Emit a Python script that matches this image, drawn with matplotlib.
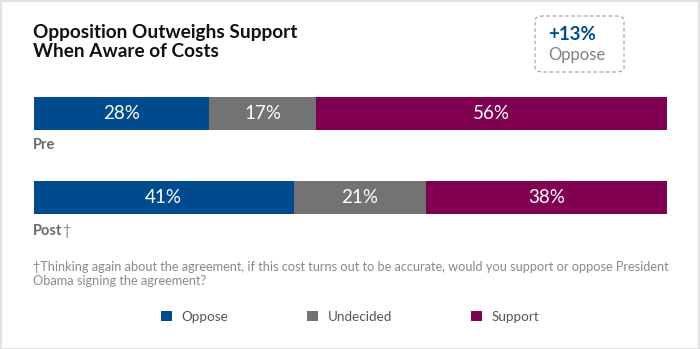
import matplotlib.pyplot as plt
import numpy as np
from matplotlib.patches import FancyBboxPatch, Rectangle

# datos
rows = ["Pre", "Post"]
categories = ["Oppose", "Undecided", "Support"]
oppose = [28, 41]
undecided = [17, 21]
support = [56, 38]
colors = ["#004b8d", "#737373", "#7f0050"]

W, H = 700, 349
plt.rcParams['font.family'] = ['Lato', 'DejaVu Sans']

fig = plt.figure(figsize=(W / 100, H / 100), dpi=100)
fig.patch.set_facecolor("white")

def px(x, y):
    return x / W, 1 - y / H

# borde de la figura
fig.patches.append(Rectangle((0.5 / W, 0.5 / H), 1 - 1.5 / W, 1 - 1.5 / H,
                             transform=fig.transFigure, fill=False,
                             edgecolor="#dcdcdc", linewidth=1.2))

# ejes de las barras
gap, bar_px = 84, 33
h = bar_px / gap
left, right, top, bottom = 34, 667, 97, 214
ax = fig.add_axes([left / W, 1 - bottom / H, (right - left) / W, (bottom - top) / H])
ax.set_xlim(0, 1)
ax.set_ylim(1 + h / 2, -h / 2)
ax.axis("off")

data = np.array([oppose, undecided, support], dtype=float)
totals = data.sum(axis=0)
starts = np.zeros(len(rows))
handles = []
for i, cat in enumerate(categories):
    widths = data[i] / totals
    b = ax.barh(np.arange(len(rows)), widths, left=starts, height=h,
                color=colors[i], label=cat)
    handles.append(b)
    for j in range(len(rows)):
        ax.text(starts[j] + widths[j] / 2, j, f"{int(data[i][j])}%",
                ha="center", va="center", color="white", fontsize=13.5)
    starts += widths

# etiquetas de fila
fig.text(*px(33, 145), "Pre", fontsize=10.5, fontweight="bold", color="#6b6b6b",
         va="center")
fig.text(*px(33, 231), "Post", fontsize=10.5, fontweight="bold", color="#6b6b6b",
         va="center")
fig.text(*px(62, 231), "†", fontsize=10.5, color="#8a8a8a", va="center")

# título
fig.text(*px(33, 42), "Opposition Outweighs Support\nWhen Aware of Costs",
         fontsize=13.7, fontweight="bold", color="#111111", va="center",
         linespacing=1.1)

# caja +13%
box = FancyBboxPatch(px(535, 72), 89 / W, 56 / H,
                     boxstyle="round,pad=0,rounding_size=0.012",
                     transform=fig.transFigure, fill=False,
                     edgecolor="#a8a8a8", linestyle=(0, (3, 2)), linewidth=0.9)
fig.patches.append(box)
fig.text(*px(548, 35), "+13%", fontsize=13.5, fontweight="bold", color="#004b8d",
         va="center")
fig.text(*px(548, 55), "Oppose", fontsize=12, color="#808080", va="center")

# nota
fig.text(*px(33, 274),
         "†Thinking again about the agreement, if this cost turns out to be accurate, would you support or oppose President\nObama signing the agreement?",
         fontsize=9.15, color="#8a8a8a", va="center", linespacing=1.2)

# leyenda
fig.legend(handles=handles, labels=categories, loc="center",
           bbox_to_anchor=(0.5, 1 - 317 / H), ncol=3, frameon=False,
           fontsize=9.7, handlelength=0.8, handleheight=0.8,
           handletextpad=0.7, columnspacing=5.9, labelcolor="#555555")

fig.savefig("out.png", dpi=100)
